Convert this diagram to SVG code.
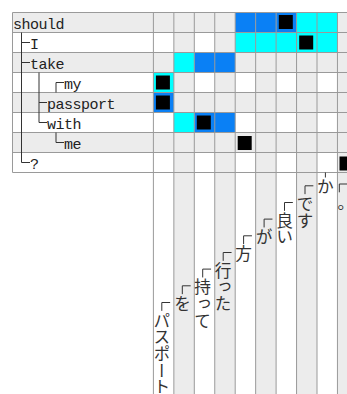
<svg xmlns="http://www.w3.org/2000/svg" width="347" height="394" viewBox="0 0 347 394">
<style>
.g{fill:#ececec}
.b{fill:#0a80f5}
.c{fill:#00ffff}
.k{fill:#000}
.gl{stroke:#9a9a9a;stroke-width:1;fill:none}
.tr{stroke:#333;stroke-width:1;fill:none}
.t{font-family:"Liberation Mono","DejaVu Sans Mono",monospace;font-size:15px;letter-spacing:-0.5px;fill:#222}
.v{font-family:"Noto Sans CJK JP","Noto Sans CJK SC",sans-serif;font-size:16.7px;fill:#333;writing-mode:vertical-rl}
.h{font-family:"Noto Sans CJK JP","Noto Sans CJK SC",sans-serif;font-size:16.7px;fill:#333;letter-spacing:-8px}
</style>
<rect width="347" height="394" fill="#fff"/>
<g id="background">
<rect class="g" x="173.85" y="12.5" width="20.45" height="381.5"/>
<rect class="g" x="214.75" y="12.5" width="20.45" height="381.5"/>
<rect class="g" x="255.65" y="12.5" width="20.45" height="381.5"/>
<rect class="g" x="296.55" y="12.5" width="20.45" height="381.5"/>
<rect class="g" x="337.45" y="12.5" width="20.45" height="381.5"/>
<rect class="g" x="12.5" y="12.5" width="334.5" height="20"/>
<rect class="g" x="12.5" y="52.5" width="334.5" height="20"/>
<rect class="g" x="12.5" y="92.5" width="334.5" height="20"/>
<rect class="g" x="12.5" y="132.5" width="334.5" height="20"/>
</g>
<g id="cells">
<rect class="b" x="235.2" y="12.5" width="20.45" height="20"/>
<rect class="b" x="255.65" y="12.5" width="20.45" height="20"/>
<rect class="b" x="276.1" y="12.5" width="20.45" height="20"/>
<rect class="c" x="296.55" y="12.5" width="20.45" height="20"/>
<rect class="c" x="317" y="12.5" width="20.45" height="20"/>
<rect class="c" x="235.2" y="32.5" width="81.8" height="20"/>
<rect class="c" x="317" y="32.5" width="20.45" height="20"/>
<rect class="c" x="173.85" y="52.5" width="20.45" height="20"/>
<rect class="b" x="194.3" y="52.5" width="40.9" height="20"/>
<rect class="c" x="153.4" y="72.5" width="20.45" height="20"/>
<rect class="b" x="153.4" y="92.5" width="20.45" height="20"/>
<rect class="c" x="173.85" y="112.5" width="20.45" height="20"/>
<rect class="b" x="194.3" y="112.5" width="40.9" height="20"/>
<rect class="k" x="278.8" y="15" width="14" height="14"/>
<rect class="k" x="299.2" y="35.5" width="14" height="14"/>
<rect class="k" x="155.9" y="75.5" width="14" height="14"/>
<rect class="k" x="155.9" y="95.5" width="14" height="14"/>
<rect class="k" x="196.8" y="115.5" width="14" height="14"/>
<rect class="k" x="237.7" y="136" width="14" height="14"/>
<rect class="k" x="339.5" y="156.5" width="14" height="14"/>
</g>
<g id="grid">
<path class="gl" d="M12.5 12.5H347M12.5 32.5H347M12.5 52.5H347M12.5 72.5H347M12.5 92.5H347M12.5 112.5H347M12.5 132.5H347M12.5 152.5H347M12.5 172.5H347M12.5 12.5V172.5"/>
<path class="gl" d="M153.4 12.5V394M173.85 12.5V394M194.3 12.5V394M214.75 12.5V394M235.2 12.5V394M255.65 12.5V394M276.1 12.5V394M296.55 12.5V394M317 12.5V394M337.45 12.5V394"/>
</g>
<g id="connectors">
<path class="tr" d="M21.5 32.5V162.5M21.5 42.5H30M21.5 62.5H30M21.5 162.5H30"/>
<path class="tr" d="M39 72.5V122.5M39 102.5H47M39 122.5H47"/>
<path class="tr" d="M56 82.5V92.5M56 82.5H64M56 132.5V142.5M56 142.5H64"/>
<path class="tr" d="M161.8 302.5h8.35M161.8 302.5v8.35M182.3 285.8h8.35M182.3 285.8v8.35M202.7 269.1h8.35M202.7 269.1v8.35M223.2 252.5h8.35M223.2 252.5v8.35M243.6 235.8h8.35M243.6 235.8v8.35M264.1 219.1h8.35M264.1 219.1v8.35M284.5 202.5h8.35M284.5 202.5v8.35M305 185.8h8.35M305 185.8v8.35M325.4 172.5v5M339.3 184H347M339.3 184v8.3"/>
</g>
<g id="rows">
<text id="n-should" class="t" x="13" y="28.5">should</text>
<text id="n-I" class="t" x="30" y="48.5">I</text>
<text id="n-take" class="t" x="30" y="68.5">take</text>
<text id="n-my" class="t" x="64" y="88.5">my</text>
<text id="n-passport" class="t" x="47" y="108.5">passport</text>
<text id="n-with" class="t" x="47" y="128.5">with</text>
<text id="n-me" class="t" x="64" y="148.5">me</text>
<text id="n-q" class="t" x="30" y="168.5">?</text>
</g>
<g id="columns">
<text id="w1" class="v" x="161.8" y="312">パスポート</text>
<text id="w2" class="v" x="182.3" y="295.3">を</text>
<text id="w3" class="v" x="202.7" y="278.7">持って</text>
<text id="w4" class="v" x="223.2" y="262">行った</text>
<text id="w5" class="v" x="243.6" y="245.3">方</text>
<text id="w6" class="v" x="264.1" y="228.7">が</text>
<text id="w7" class="v" x="284.5" y="212">良い</text>
<text id="w8" class="v" x="305" y="195.3">です</text>
<text id="w9" class="v" x="325.4" y="178.2">か</text>
<text id="w10" class="h" x="337.5" y="209">。</text>
</g>
</svg>
